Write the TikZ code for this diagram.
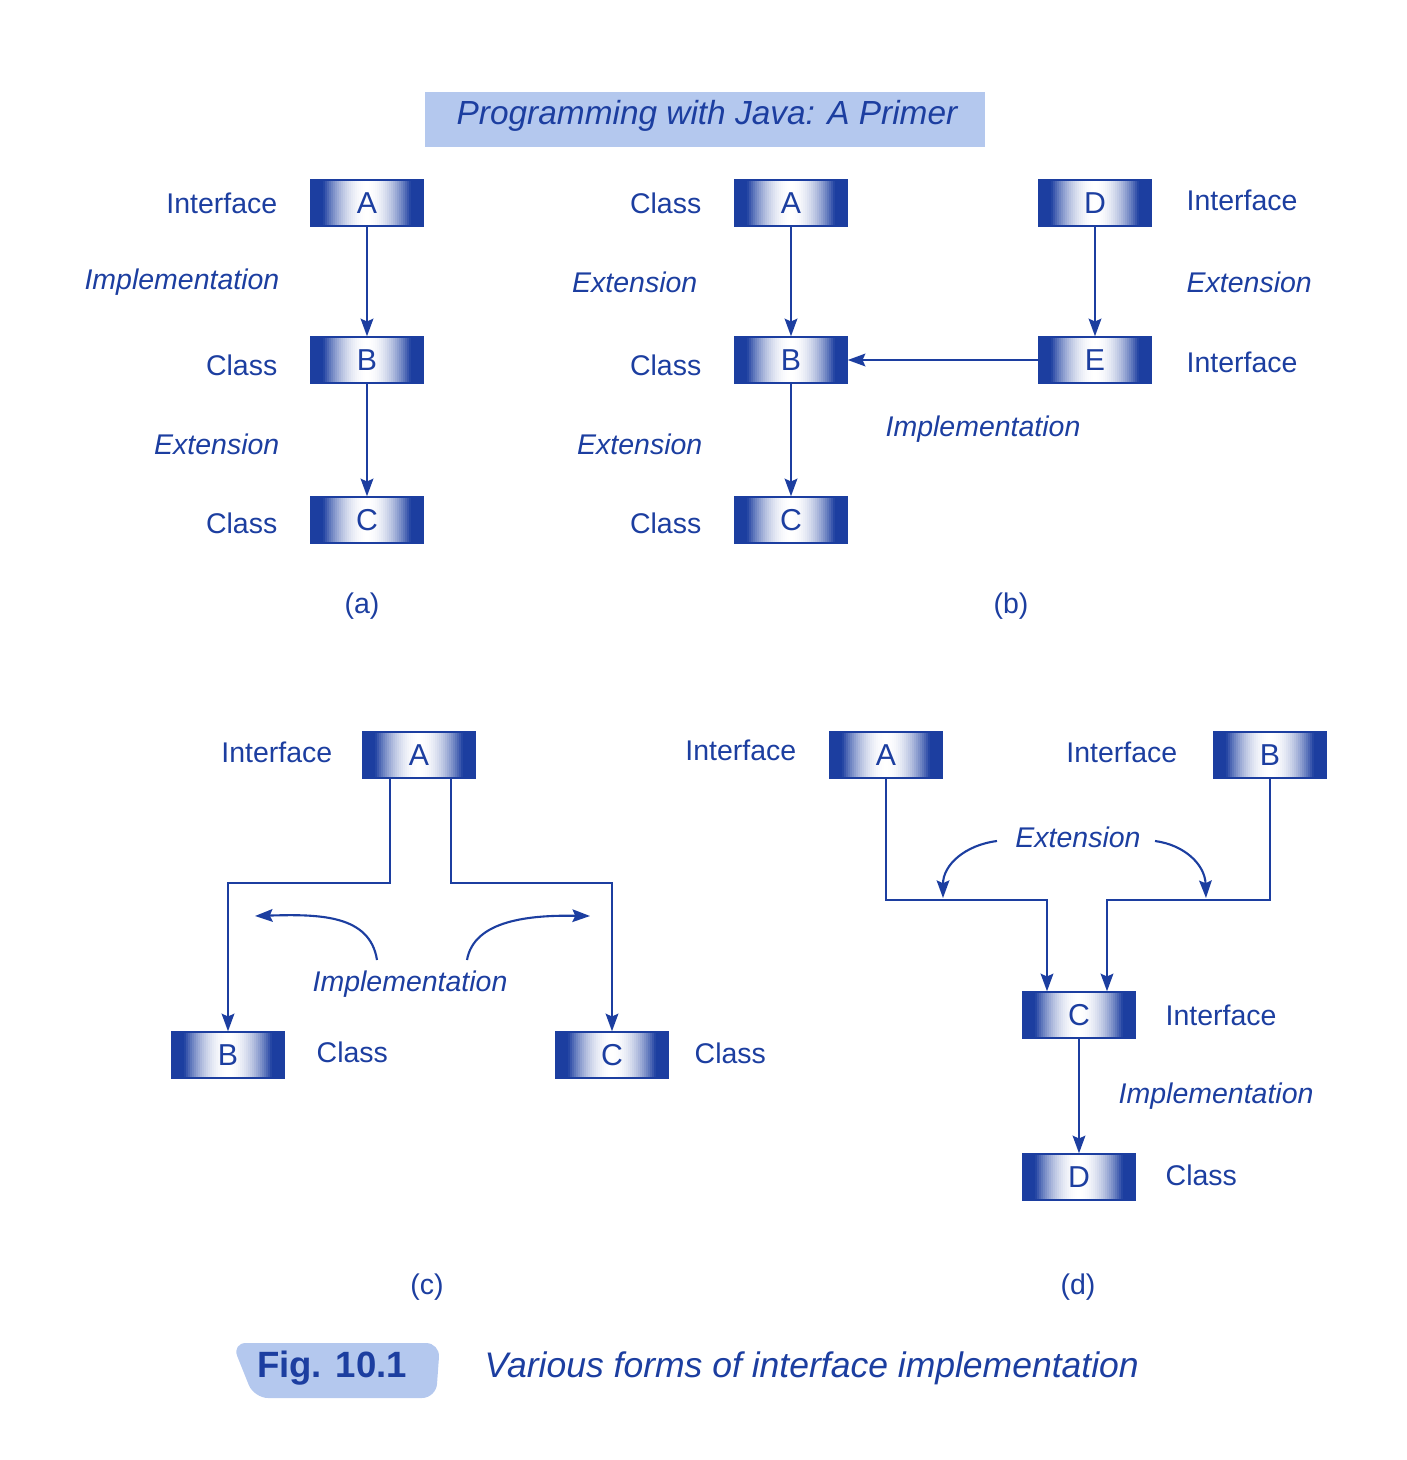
\documentclass[tikz,border=0pt]{standalone}
\usepackage{fontspec}
\setmainfont{Liberation Sans}
\usetikzlibrary{arrows.meta}

\definecolor{jblue}{RGB}{28,62,160}
\definecolor{jpale}{RGB}{180,200,238}

\tikzset{
  box/.style={draw=jblue, line width=0.4pt, minimum width=1.12cm, minimum height=0.46cm, inner sep=0pt, text=jblue, font=\fontsize{8.6}{10}\selectfont,
    path picture={
      \foreach \k in {0,...,55} {
        \pgfmathsetmacro\m{100*min(1,(abs(\k-27.5)/27.5/0.8)^2)}
        \fill[jblue!\m!white] ([xshift=\k*0.02cm-0.1pt]path picture bounding box.south west) rectangle ([xshift=\k*0.02cm+0.02cm+0.1pt]path picture bounding box.north west);
      }}},
  lbl/.style={text=jblue, inner sep=0pt, font=\fontsize{8.1}{10}\selectfont},
  ilbl/.style={lbl, font=\fontsize{8.1}{10}\selectfont\itshape},
  ln/.style={draw=jblue, line width=0.6pt},
  arr/.style={ln, -{Stealth[length=5pt,width=3.6pt,inset=0.8pt]}}
}

\begin{document}
\begin{tikzpicture}
\begin{scope}[x=0.01cm, y=-0.01cm]
\useasboundingbox (0,0) rectangle (1407,1460);

% title
\fill[jpale] (425,92) rectangle (985,147);
\node[lbl, font=\fontsize{9.5}{11}\selectfont\itshape] (title) at (707,116) {Programming with Java: A Primer};

% (a)
\node[box] (aA) at (367,203) {A};
\node[box] (aB) at (367,360) {B};
\node[box] (aC) at (367,520) {C};
\draw[arr] (aA) -- (aB);
\draw[arr] (aB) -- (aC);
\node[lbl, anchor=east] (aAl) at (278,203) {Interface};
\node[ilbl, anchor=east] (aAB) at (280,282) {Implementation};
\node[lbl, anchor=east] (aBl) at (278,365) {Class};
\node[ilbl, anchor=east] (aBC) at (280,444) {Extension};
\node[lbl, anchor=east] (aCl) at (278,523) {Class};
\node[lbl] (acap) at (362,606) {(a)};

% (b)
\node[box] (bA) at (791,203) {A};
\node[box] (bB) at (791,360) {B};
\node[box] (bC) at (791,520) {C};
\node[box] (bD) at (1095,203) {D};
\node[box] (bE) at (1095,360) {E};
\draw[arr] (bA) -- (bB);
\draw[arr] (bB) -- (bC);
\draw[arr] (bD) -- (bE);
\draw[arr] (bE) -- (bB);
\node[lbl, anchor=east] (bAl) at (702,203) {Class};
\node[ilbl, anchor=east] (bAB) at (698,282) {Extension};
\node[lbl, anchor=east] (bBl) at (702,365) {Class};
\node[ilbl, anchor=east] (bBC) at (703,444) {Extension};
\node[lbl, anchor=east] (bCl) at (702,523) {Class};
\node[lbl, anchor=west] (bDl) at (1186,200) {Interface};
\node[ilbl, anchor=west] (bDE) at (1186,282) {Extension};
\node[lbl, anchor=west] (bEl) at (1186,362) {Interface};
\node[ilbl] (bEB) at (983,429) {Implementation};
\node[lbl] (bcap) at (1011,606) {(b)};

% (c)
\node[box] (cA) at (419,755) {A};
\node[box] (cB) at (228,1055) {B};
\node[box] (cC) at (612,1055) {C};
\coordinate (cL) at (390,883);
\coordinate (cR) at (451,883);
\draw[arr] (cA.south -| cL) -- (cL) -| (cB.north);
\draw[arr] (cA.south -| cR) -- (cR) -| (cC.north);
\node[lbl, anchor=east] (cAl) at (333,752) {Interface};
\node[lbl, anchor=west] (cBl) at (316,1052) {Class};
\node[lbl, anchor=west] (cCl) at (694,1053) {Class};
\node[ilbl] (cimp) at (410,984) {Implementation};
\coordinate (cimpL) at (377,960);
\coordinate (cimpR) at (467,960);
\coordinate (cTipL) at (255,916);
\coordinate (cTipR) at (590,916);
\draw[arr] (cimpL) .. controls (370,915) and (320,914) .. (cTipL);
\draw[arr] (cimpR) .. controls (474,920) and (530,915) .. (cTipR);
\node[lbl] (ccap) at (427,1287) {(c)};

% (d)
\node[box] (dA) at (886,755) {A};
\node[box] (dB) at (1270,755) {B};
\node[box] (dC) at (1079,1015) {C};
\node[box] (dD) at (1079,1177) {D};
\coordinate (dL) at (1047,900);
\coordinate (dR) at (1107,900);
\draw[arr] (dA.south) |- (dL) -- (dC.north -| dL);
\draw[arr] (dB.south) |- (dR) -- (dC.north -| dR);
\draw[arr] (dC) -- (dD);
\node[lbl, anchor=east] (dAl) at (797,750) {Interface};
\node[lbl, anchor=east] (dBl) at (1178,752) {Interface};
\node[lbl, anchor=west] (dCl) at (1165,1015) {Interface};
\node[ilbl, anchor=west] (dCD) at (1118,1096) {Implementation};
\node[lbl, anchor=west] (dDl) at (1165,1175) {Class};
\node[ilbl] (dext) at (1078,837) {Extension};
\coordinate (dextL) at (997,841);
\coordinate (dextR) at (1155,841);
\coordinate (dTipL) at (943,898);
\coordinate (dTipR) at (1206,898);
\draw[arr] (dextL) .. controls (965,845) and (943,865) .. (dTipL);
\draw[arr] (dextR) .. controls (1185,845) and (1205,865) .. (dTipR);
\node[lbl] (dcap) at (1078,1287) {(d)};

% caption
\fill[jpale, rounded corners=4pt] (232,1343) -- (440,1343) -- (436,1398) -- (254,1398) -- cycle;
\node[lbl, font=\fontsize{10.4}{12}\selectfont\bfseries] (fig) at (332,1368) {Fig. 10.1};
\node[lbl, anchor=west, font=\fontsize{10.1}{12}\selectfont\itshape] (figtext) at (484,1368) {Various forms of interface implementation};

\end{scope}
\end{tikzpicture}
\end{document}
